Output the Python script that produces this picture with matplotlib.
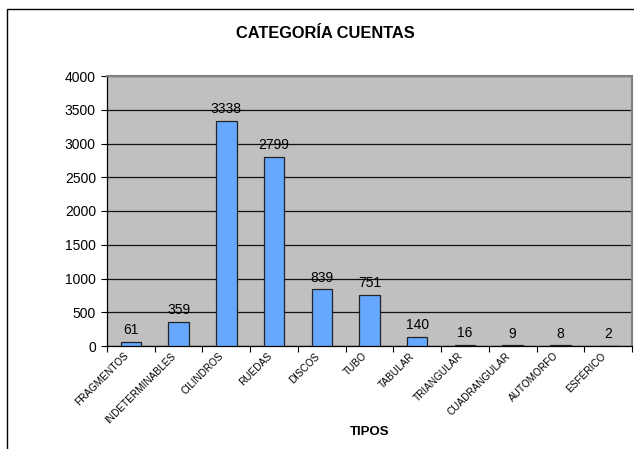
import matplotlib
matplotlib.use("Agg")
import matplotlib.pyplot as plt
import matplotlib.transforms as mtransforms
import numpy as np
from matplotlib.patches import Rectangle

categories = ["FRAGMENTOS", "INDETERMINABLES", "CILINDROS", "RUEDAS", "DISCOS", "TUBO",
              "TABULAR", "TRIANGULAR", "CUADRANGULAR", "AUTOMORFO", "ESFÉRICO"]
values = [61, 359, 3338, 2799, 839, 751, 140, 16, 9, 8, 2]
yticks = [0, 500, 1000, 1500, 2000, 2500, 3000, 3500, 4000]
title = "CATEGORÍA CUENTAS"
xlabel = "TIPOS"

plt.rcParams['font.family'] = ['Liberation Sans', 'DejaVu Sans']

W, H = 634, 449
fig = plt.figure(figsize=(W / 100, H / 100), dpi=100)
fig.patch.set_facecolor('white')

# chart outer border (runs off the right and bottom)
fig.add_artist(Rectangle((6.5 / W, -0.1), 2, 1 - 9 / H + 0.1, transform=fig.transFigure,
                         fill=False, edgecolor='black', linewidth=1.0))

ax = fig.add_axes([107 / W, 1 - 346 / H, (632 - 107) / W, (346 - 76) / H])
ax.set_facecolor('#C0C0C0')

x = np.arange(len(categories))
ax.bar(x, values, width=0.43, color='#66A8FF', edgecolor='#222222', linewidth=0.9, zorder=3)

for xi, v in zip(x, values):
    ax.annotate(str(v), (xi, v), xytext=(0, 3.5), textcoords='offset points',
                ha='center', va='bottom', fontsize=10, zorder=4)

ax.set_xlim(-0.5, len(categories) - 0.5)
ax.set_ylim(0, 4000)
ax.set_yticks(yticks)
ax.set_yticklabels([str(t) for t in yticks], fontsize=10)
ax.yaxis.grid(True, color='#111111', linewidth=0.9, zorder=1)
ax.set_axisbelow(True)
ax.tick_params(axis='y', direction='out', length=4, width=0.8, pad=4)

ax.set_xticks(x)
ax.set_xticklabels(categories, rotation=45, ha='right', va='center',
                   rotation_mode='anchor', fontsize=7.2)
ax.tick_params(axis='x', which='major', length=0, pad=6)
ax.set_xticks(np.arange(-0.5, len(categories), 1.0), minor=True)
ax.tick_params(axis='x', which='minor', direction='out', length=4, width=0.8)
offset = mtransforms.ScaledTranslation(-4 / 100, 0, fig.dpi_scale_trans)
for lbl in ax.get_xticklabels():
    lbl.set_transform(lbl.get_transform() + offset)

for s in ['left', 'bottom']:
    ax.spines[s].set_color('black')
    ax.spines[s].set_linewidth(0.9)
for s in ['top', 'right']:
    ax.spines[s].set_color('#808080')
    ax.spines[s].set_linewidth(1.5)

fig.text(325 / W, 1 - 34 / H, title, ha='center', va='center', fontsize=11.8, fontweight='bold')
fig.text(370 / W, 1 - 432 / H, xlabel, ha='center', va='center', fontsize=9.5, fontweight='bold')

fig.savefig("out.png", dpi=100)
